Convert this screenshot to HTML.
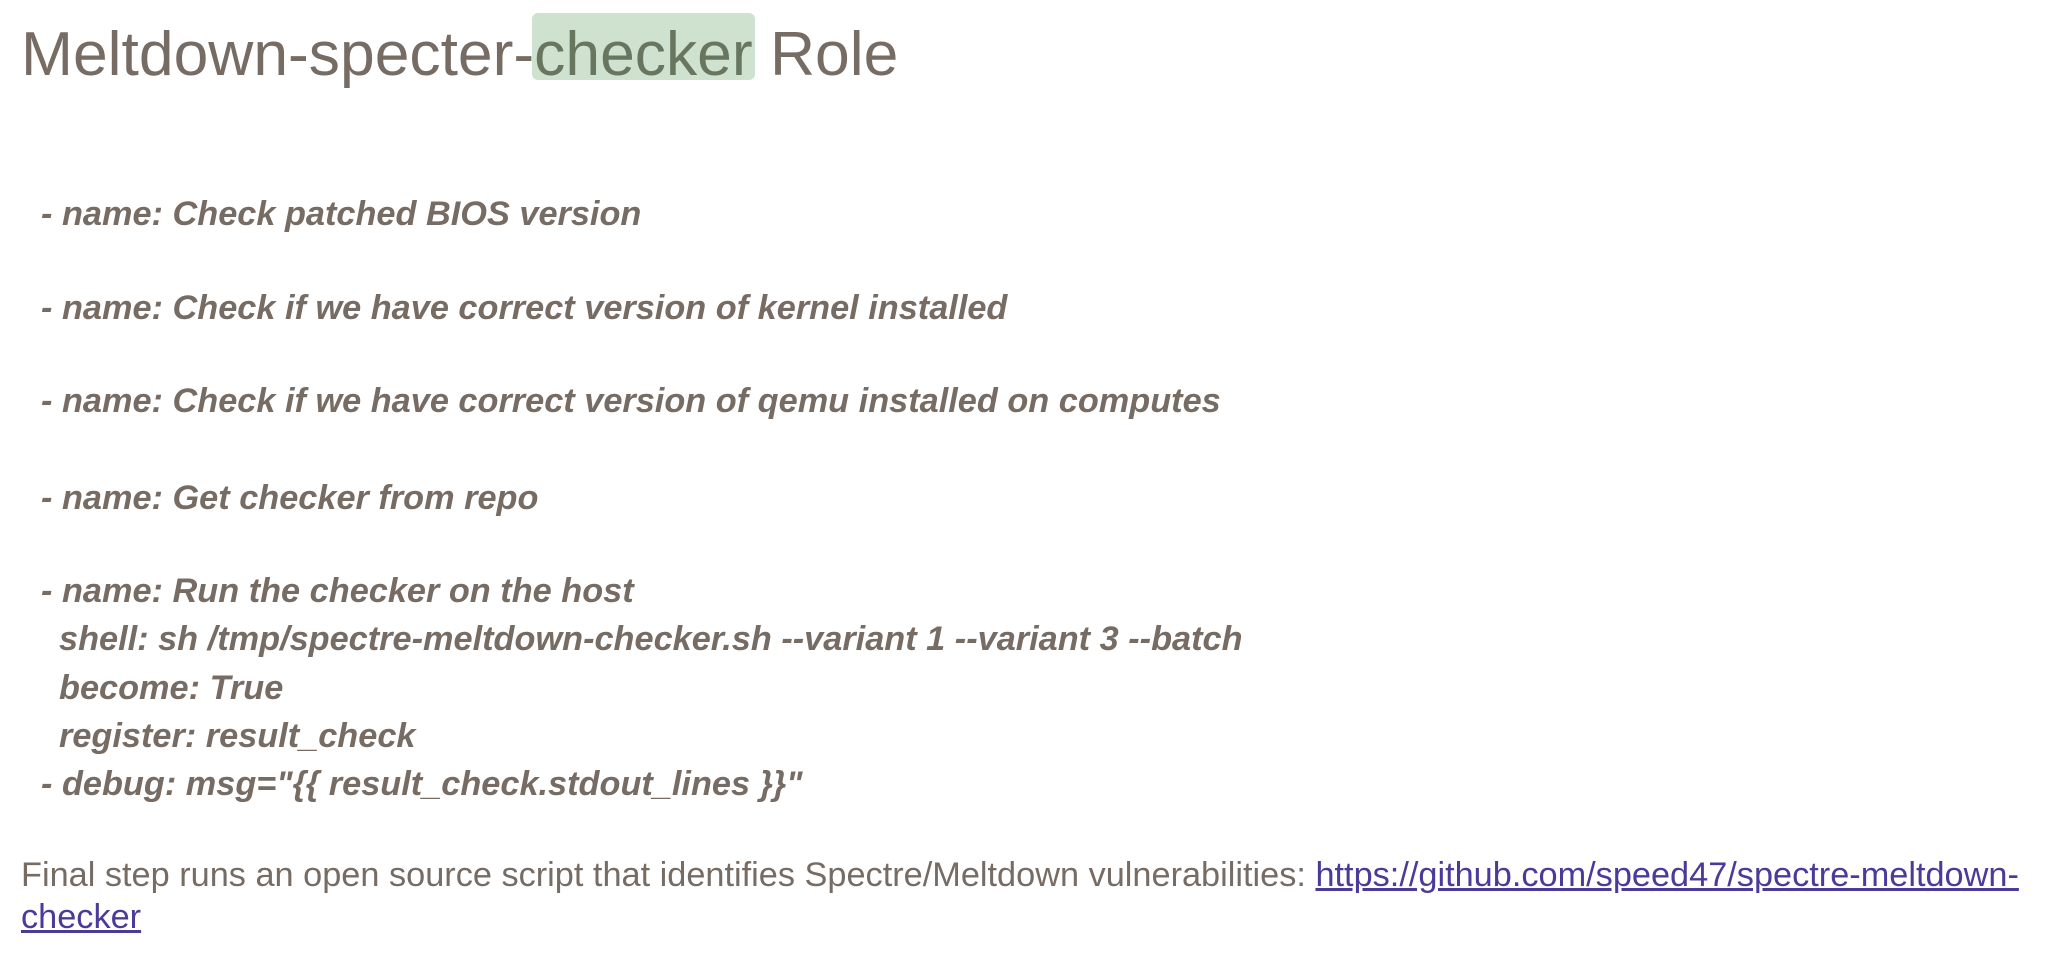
<!DOCTYPE html>
<html><head><meta charset="utf-8"><style>
html,body{margin:0;padding:0;background:#fff;width:2056px;height:980px;overflow:hidden}
body{position:relative;font-family:"Liberation Sans",Arial,sans-serif;color:#776c64}
.a{position:absolute;white-space:nowrap;line-height:1}
.t{font-size:62.4px;left:21px;top:24px}
.hl{position:absolute;left:532px;top:13px;width:223px;height:67px;background:#cfe2cf;border-radius:6px}
.c{font-size:34.3px;font-weight:bold;font-style:italic}
.p{font-size:34.3px;left:21px}
a{color:#4b3a9a;text-decoration:underline}
</style></head><body>
<div class="hl"></div>
<div class="a t">Meltdown-specter-<span style="color:#69765f">checker</span> Role</div>
<div class="a c" style="left:41px;top:197px">- name: Check patched BIOS version</div>
<div class="a c" style="left:41px;top:291px">- name: Check if we have correct version of kernel installed</div>
<div class="a c" style="left:41px;top:384px">- name: Check if we have correct version of qemu installed on computes</div>
<div class="a c" style="left:41px;top:481px">- name: Get checker from repo</div>
<div class="a c" style="left:41px;top:574px">- name: Run the checker on the host</div>
<div class="a c" style="left:59px;top:622px">shell: sh /tmp/spectre-meltdown-checker.sh --variant 1 --variant 3 --batch</div>
<div class="a c" style="left:59px;top:671px">become: True</div>
<div class="a c" style="left:59px;top:719px">register: result_check</div>
<div class="a c" style="left:41px;top:767px">- debug: msg="{{ result_check.stdout_lines }}"</div>
<div class="a p" style="top:858px">Final step runs an open source script that identifies Spectre/Meltdown vulnerabilities: <a>https://github.com/speed47/spectre-meltdown-</a></div>
<div class="a p" style="top:900px"><a>checker</a></div>
</body></html>
